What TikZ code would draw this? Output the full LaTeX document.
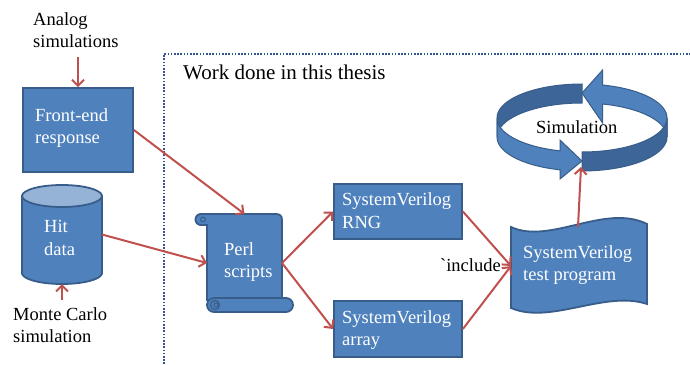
\documentclass[tikz,border=0pt]{standalone}
\usepackage{fontspec}
\setmainfont{Liberation Serif}
\usetikzlibrary{arrows.meta,calc}
\definecolor{boxblue}{HTML}{4F81BD}
\definecolor{boxline}{HTML}{385D8A}
\definecolor{ringdark}{HTML}{3E6598}
\definecolor{toplight}{HTML}{95B3D7}
\definecolor{arrowred}{HTML}{C0504D}
\definecolor{dotblue}{HTML}{2F5597}
\begin{document}
\begin{tikzpicture}[x=1pt,y=-1pt,
  lbl/.style={font=\fontsize{18.5}{22.5}\selectfont, align=left, inner sep=0pt, text=black},
  boxlbl/.style={lbl, text=white},
  bluebox/.style={draw=boxline, fill=boxblue, line width=1.8pt, inner sep=0pt},
  ghost/.style={inner sep=0pt, outer sep=0pt},
  arr/.style={draw=arrowred, line width=2pt, -{Straight Barb[length=6pt,width=12pt]}},
  shapeline/.style={draw=boxline, fill=boxblue, line width=1.8pt},
  ringlight/.style={draw=boxline, fill=boxblue, line width=1pt},
  ringshade/.style={draw=boxline, fill=ringdark, line width=1pt}]
\useasboundingbox (0,0) rectangle (690,364);

% dotted frame
\draw[dotblue, line width=1.8pt, dash pattern=on 1.6pt off 1.6pt] (164,364) -- (164,54) -- (690,54);

% front-end box
\node[bluebox, minimum width=110pt, minimum height=84pt] (fe) at (78,130) {};

% cylinder
\path[shapeline] (22,196) -- plot[domain=180:360, samples=40] ({62+40*cos(\x)},{273-11*sin(\x)}) -- (102,196) -- cycle;
\path[draw=boxline, fill=toplight, line width=1.8pt] (62,196) ellipse [x radius=40, y radius=11];
\node[ghost, minimum width=80pt, minimum height=99pt] (hit) at (62,234.5) {};

% perl scroll
\path[shapeline] (201,214) -- (276,214) .. controls (280,214) and (282,216) .. (282,220) -- (282,300) -- (207,300) -- (207,225) -- (201,225) -- plot[domain=270:90, samples=20] ({201+5.5*cos(\x)},{219.5-5.5*sin(\x)}) -- cycle;
\draw[boxline, line width=1pt] (203,219.5) circle[radius=2.4];
\path[shapeline, rounded corners=7pt] (207,298) rectangle (293,312);
\draw[boxline, line width=1.2pt] (215,305) circle[radius=4.5];
\draw[boxline, line width=1pt] (216,305) circle[radius=2];
\node[ghost, minimum width=75pt, minimum height=98pt] (perl) at (244.5,263) {};

% SystemVerilog boxes
\node[bluebox, minimum width=128pt, minimum height=55pt] (rng) at (398,211.5) {};
\node[bluebox, minimum width=128pt, minimum height=56pt] (arry) at (398,329) {};

% test program (punched tape)
\path[shapeline] (511,227) .. controls (550,245) and (605,203) .. (647,224) -- (647,304) .. controls (605,290) and (550,325) .. (511,308) -- cycle;
\node[ghost, minimum width=136pt, minimum height=96pt] (test) at (579,266) {};

% circular arrow (simulation)
\path[ringshade] plot[domain=90:180, samples=30] ({582+85*cos(\x)},{118-34*sin(\x)}) -- plot[domain=180:90, samples=30] ({582+85*cos(\x)},{137-34*sin(\x)}) -- cycle;
\path[ringlight] plot[domain=0:76, samples=30] ({582+85*cos(\x)},{118-34*sin(\x)}) -- (602.6,70) -- (582,93) -- (602.6,123) -- plot[domain=76:0, samples=30] ({582+85*cos(\x)},{137-34*sin(\x)}) -- cycle;
\path[ringlight] plot[domain=180:255, samples=30] ({582+85*cos(\x)},{118-34*sin(\x)}) -- (560,140) -- (582,161) -- (560,179) -- plot[domain=255:180, samples=30] ({582+85*cos(\x)},{137-34*sin(\x)}) -- cycle;
\path[ringshade] plot[domain=270:360, samples=30] ({582+85*cos(\x)},{118-34*sin(\x)}) -- plot[domain=360:270, samples=30] ({582+85*cos(\x)},{137-34*sin(\x)}) -- cycle;
\node[ghost, minimum width=170pt, minimum height=106pt] (sim) at (582,125) {};

% texts
\node[lbl, font=\fontsize{21}{25}\selectfont, anchor=base west] (title) at (183,79.3) {Work done in this thesis};
\node[lbl, anchor=west] (ana) at (33,30) {Analog\\simulations};
\node[boxlbl, anchor=west] (fetxt) at (35,128) {Front-end\\response};
\node[boxlbl, anchor=west] (hittxt) at (44,238) {Hit\\data};
\node[lbl, anchor=west] (mc) at (13,325) {Monte Carlo\\simulation};
\node[boxlbl, anchor=west] (perltxt) at (224,262) {Perl\\scripts};
\node[boxlbl, anchor=west] (rngtxt) at (342,210.5) {SystemVerilog\\RNG};
\node[boxlbl, anchor=west] (arrtxt) at (342,330) {SystemVerilog\\array};
\node[boxlbl, anchor=west] (testtxt) at (523,265) {SystemVerilog\\test program};
\node[lbl, anchor=east] (inc) at (501,265.4) {\textasciigrave include};
\node[lbl, anchor=base west] (simtxt) at (536,133.3) {Simulation};

% connectors
\draw[arr, shorten <=9pt] (ana.south -| fe.north) -- (fe.north);
\draw[arr, shorten <=7pt] (mc.north -| hit.south) -- (hit.south);
\draw[arr] (fe.east) -- (perl.north);
\draw[arr] (hit.east) -- (perl.west);
\draw[arr] (perl.east) -- (rng.west);
\draw[arr] (perl.east) -- (arry.west);
\draw[arr] (rng.east) -- (test.west);
\draw[arr] (arry.east) -- (test.west);
\draw[arr] ($(test.north)+(-1,9)$) -- ($(sim.south)+(-1,-11)$);
\end{tikzpicture}
\end{document}
